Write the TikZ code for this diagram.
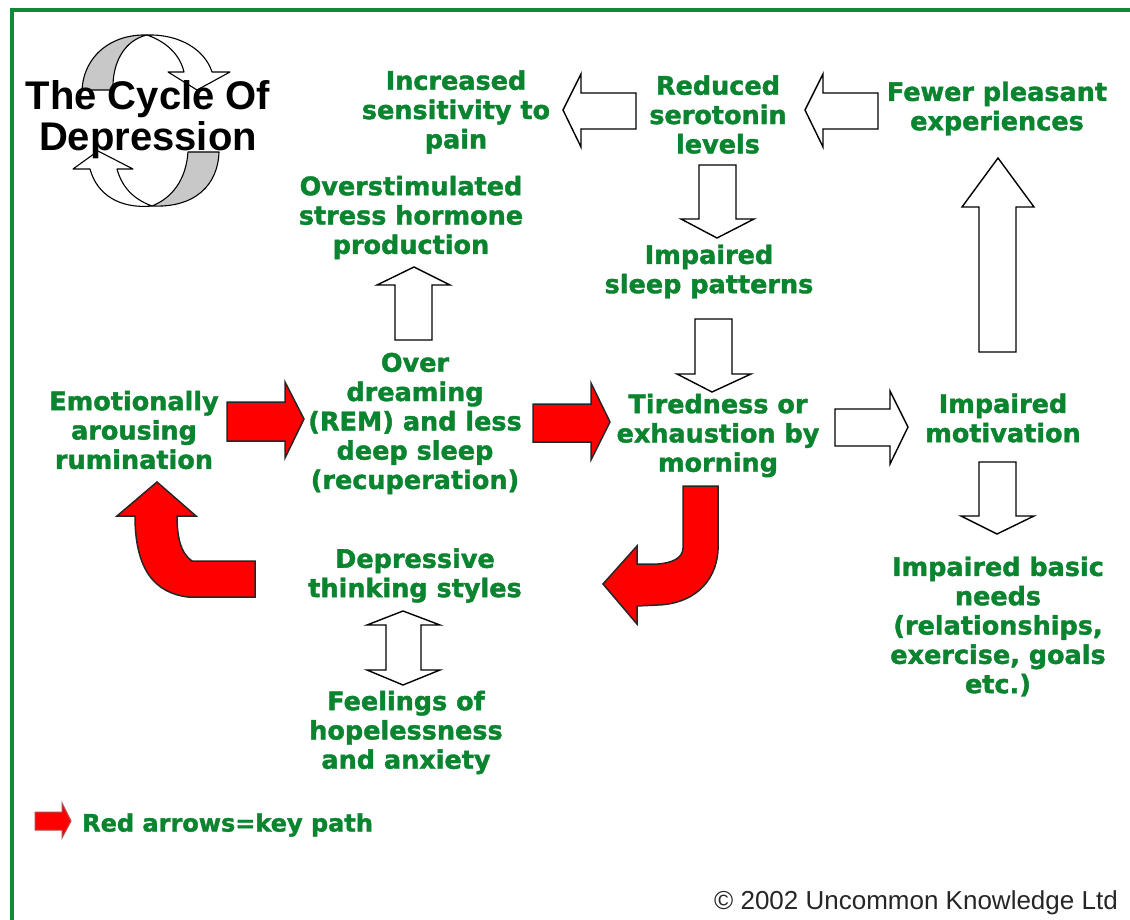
\documentclass[tikz,border=0pt]{standalone}
\usepackage{fontspec}
\setmainfont{DejaVu Sans}[BoldFeatures={FakeBold=1.6}]
\newfontfamily\arialfont{Liberation Sans}
\definecolor{lbl}{HTML}{0B8430}
\definecolor{frame}{HTML}{0F8A38}
\definecolor{iconfill}{HTML}{C8C8C8}
\tikzset{
  lab/.style={text=lbl,align=center,inner sep=0pt,font=\fontsize{25.5}{29.3}\bfseries\selectfont},
  hollow/.style={draw=black,fill=white,line width=1.4pt,line join=miter},
  keyarrow/.style={draw=black!85,fill=red,line width=1.5pt,line join=miter},
  iconpart/.style={draw=black,line width=1.1pt,line join=round},
}
\begin{document}
\begin{tikzpicture}[x=1pt,y=-1pt]
\useasboundingbox (0,0) rectangle (1130,920);
\fill[white] (0,0) rectangle (1130,920);
\draw[frame,line width=3.6pt] (12,920) -- (12,10) -- (1130,10);
% cycle icon
\draw[iconpart,fill=iconfill] (82,90) .. controls (84,55) and (112,34) .. (147,35) .. controls (125,40) and (112,62) .. (113,90) -- cycle;
\draw[iconpart,fill=white] (147,35) .. controls (180,34) and (205,50) .. (212,72) -- (230,72) -- (197,90) -- (168,72) -- (184,72) .. controls (180,55) and (167,42) .. (147,35) -- cycle;
\draw[iconpart,fill=iconfill] (219,152) .. controls (218,185) and (195,208) .. (152,206) .. controls (172,198) and (186,180) .. (188,152) -- cycle;
\draw[iconpart,fill=white] (152,206) .. controls (120,209) and (97,195) .. (90,169) -- (73,169) -- (98,151) -- (133,169) -- (117,169) .. controls (122,187) and (133,199) .. (152,206) -- cycle;
\node[inner sep=0pt,align=center,text=black,font=\arialfont\fontsize{40}{41}\bfseries\selectfont] (title) at (148,119.5) {The Cycle Of\\Depression};
% hollow arrows
\draw[hollow] (563,110) -- (581,74) -- (581,93) -- (636,93) -- (636,129) -- (581,129) -- (581,147) -- cycle;
\draw[hollow] (805,110) -- (823,74) -- (823,93) -- (878,93) -- (878,129) -- (823,129) -- (823,147) -- cycle;
\draw[hollow] (717,238) -- (681,219) -- (699,219) -- (699,165) -- (736,165) -- (736,219) -- (754,219) -- cycle;
\draw[hollow] (712,392) -- (677,374) -- (695,374) -- (695,319) -- (732,319) -- (732,374) -- (751,374) -- cycle;
\draw[hollow] (414,267) -- (450,285) -- (432,285) -- (432,340) -- (395,340) -- (395,285) -- (377,285) -- cycle;
\draw[hollow] (998,158) -- (1034,207) -- (1016,207) -- (1016,352) -- (979,352) -- (979,207) -- (962,207) -- cycle;
\draw[hollow] (908,427) -- (890,391) -- (890,409) -- (835,409) -- (835,446) -- (890,446) -- (890,464) -- cycle;
\draw[hollow] (997,534) -- (961,516) -- (979,516) -- (979,462) -- (1016,462) -- (1016,516) -- (1034,516) -- cycle;
\draw[hollow] (403,611) -- (440,625) -- (421,625) -- (421,670) -- (440,670) -- (403,685) -- (367,670) -- (386,670) -- (386,625) -- (367,625) -- cycle;
% red arrows
\draw[keyarrow] (304,419) -- (285,382) -- (285,402) -- (227,402) -- (227,441) -- (285,441) -- (285,458) -- cycle;
\draw[keyarrow] (610,422) -- (591,383) -- (591,404) -- (533,404) -- (533,442) -- (591,442) -- (591,460) -- cycle;
\draw[keyarrow] (157,482) -- (196,516) -- (177,516) .. controls (177,535) and (180,553) .. (192,561) -- (255,561) -- (255,597) -- (188,597) .. controls (155,593) and (135,570) .. (135,516) -- (117,516) -- cycle;
\draw[keyarrow] (683,486) -- (718,486) -- (718,550) .. controls (716,585) and (690,604) .. (658,605) -- (637,606) -- (637,624) -- (603,584) -- (637,546) -- (637,564) -- (658,564) .. controls (672,563) and (683,558) .. (683,548) -- cycle;
\draw[keyarrow,draw=red!55!black!70,line width=1pt] (35,812) -- (62,812) -- (62,803) -- (71,821) -- (62,838) -- (62,830) -- (35,830) -- cycle;
% labels
\node[lab] (pain) at (456,112) {Increased\\sensitivity to\\pain};
\node[lab] (sero) at (718,114.5) {Reduced\\serotonin\\levels};
\node[lab] (fewer) at (997,108.5) {Fewer pleasant\\experiences};
\node[lab] (stress) at (411,217.5) {Overstimulated\\stress hormone\\production};
\node[lab] (sleep) at (709,271.5) {Impaired\\sleep patterns};
\node[lab] (rem) at (415,423.5) {Over\\dreaming\\(REM) and less\\deep sleep\\(recuperation)};
\node[lab] (rum) at (134,430) {Emotionally\\arousing\\rumination};
\node[lab] (tired) at (718,435.5) {Tiredness or\\exhaustion by\\morning};
\node[lab] (motiv) at (1003,418) {Impaired\\motivation};
\node[lab] (think) at (415,575.5) {Depressive\\thinking styles};
\node[lab] (hope) at (406,732.5) {Feelings of\\hopelessness\\and anxiety};
\node[lab] (needs) at (998,626.5) {Impaired basic\\needs\\(relationships,\\exercise, goals\\etc.)};
\node[text=lbl,inner sep=0pt,anchor=west,font=\fontsize{24}{25}\bfseries\selectfont] (key) at (82,825) {Red arrows=key path};
\node[inner sep=0pt,anchor=east,text=black!85,font=\arialfont\fontsize{26}{30}\selectfont] (copy) at (1118,902.5) {© 2002 Uncommon Knowledge Ltd};
\end{tikzpicture}
\end{document}
